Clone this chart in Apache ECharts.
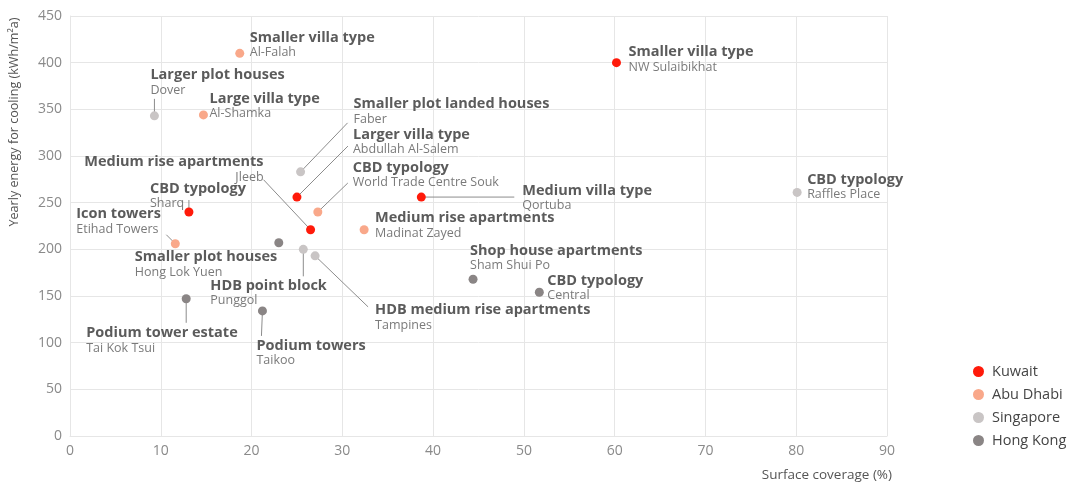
<!DOCTYPE html>
<html lang="en" style="height: 100%">
  <head>
    <meta charset="utf-8" />
  </head>
  <body style="height: 100%; margin: 0; background: #fff">
    <div id="container" style="width: 1073px; height: 486px"></div>

    <script
      type="text/javascript"
      src="https://cdn.jsdelivr.net/npm/echarts@6/dist/echarts.min.js"
    ></script>

    <script type="text/javascript">
      // countries + colours
      var countries = ["Kuwait", "Abu Dhabi", "Singapore", "Hong Kong"];
      var colors = ["#ff1a0a", "#f9a88a", "#c9c5c5", "#8a8585"];

      // Kuwait
      var kuwaitType = ["Smaller villa type", "Larger villa type", "Medium rise apartments", "CBD typology", "Medium villa type"];
      var kuwaitPlace = ["NW Sulaibikhat", "Abdullah Al-Salem", "Jleeb", "Sharq", "Qortuba"];
      var kuwaitX = [60.2, 25.0, 26.5, 13.1, 38.7];
      var kuwaitY = [400, 256, 221, 240, 256];

      // Abu Dhabi
      var abuDhabiType = ["Smaller villa type", "Large villa type", "CBD typology", "Medium rise apartments", "Icon towers"];
      var abuDhabiPlace = ["Al-Falah", "Al-Shamka", "World Trade Centre Souk", "Madinat Zayed", "Etihad Towers"];
      var abuDhabiX = [18.7, 14.7, 27.3, 32.4, 11.6];
      var abuDhabiY = [410, 344, 240, 221, 206];

      // Singapore
      var singaporeType = ["Larger plot houses", "Smaller plot landed houses", "HDB point block", "HDB medium rise apartments", "CBD typology"];
      var singaporePlace = ["Dover", "Faber", "Punggol", "Tampines", "Raffles Place"];
      var singaporeX = [9.3, 25.4, 25.7, 27.0, 80.1];
      var singaporeY = [343, 283, 200, 193, 261];

      // Hong Kong
      var hongKongType = ["Smaller plot houses", "Podium tower estate", "Podium towers", "Shop house apartments", "CBD typology"];
      var hongKongPlace = ["Hong Lok Yuen", "Tai Kok Tsui", "Taikoo", "Sham Shui Po", "Central"];
      var hongKongX = [23.0, 12.8, 21.2, 44.4, 51.7];
      var hongKongY = [207, 147, 134, 168, 154];

      // label offsets (px, from the dot centre to the label's top corner)
      var labelOffset = {
        "NW Sulaibikhat": [12, -18],
        "Abdullah Al-Salem": [56, -70],
        "Jleeb": [-47, -75],
        "Sharq": [-39, -31],
        "Qortuba": [101, -14],
        "Al-Falah": [10, -23],
        "Al-Shamka": [6, -24],
        "World Trade Centre Souk": [35, -52],
        "Madinat Zayed": [11, -19],
        "Etihad Towers": [-99, -37],
        "Dover": [-4, -48],
        "Faber": [53, -75],
        "Punggol": [-93, 29],
        "Tampines": [60, 47],
        "Raffles Place": [10, -20],
        "Hong Lok Yuen": [-144, 7],
        "Tai Kok Tsui": [-100, 27],
        "Taikoo": [-6, 27],
        "Sham Shui Po": [-3, -36],
        "Central": [8, -19]
      };
      var rightAligned = ["Jleeb"];

      // leader line ends (px, from the dot centre)
      var leaderEnd = {
        "Abdullah Al-Salem": [51, -51],
        "Jleeb": [-47, -50],
        "Sharq": [0, -12],
        "Qortuba": [93, 0],
        "World Trade Centre Souk": [30, -29],
        "Etihad Towers": [-9, -9],
        "Dover": [0, -17],
        "Faber": [47, -49],
        "Punggol": [0, 27],
        "Tampines": [53, 51],
        "Tai Kok Tsui": [0, 24],
        "Taikoo": [-1, 25]
      };

      var groups = [
        [kuwaitType, kuwaitPlace, kuwaitX, kuwaitY],
        [abuDhabiType, abuDhabiPlace, abuDhabiX, abuDhabiY],
        [singaporeType, singaporePlace, singaporeX, singaporeY],
        [hongKongType, hongKongPlace, hongKongX, hongKongY]
      ];

      var FONT = "'Open Sans', sans-serif";
      var R = 4.5;

      function buildItems(g) {
        var items = [];
        for (var i = 0; i < g[0].length; i++) {
          var place = g[1][i];
          var off = labelOffset[place] || [8, -14];
          var right = rightAligned.indexOf(place) >= 0;
          items.push({
            name: place,
            value: [g[2][i], g[3][i]],
            typeName: g[0][i],
            label: {
              position: [R + off[0], R + off[1]],
              align: right ? "right" : "left",
              verticalAlign: "top"
            }
          });
        }
        return items;
      }

      var leaderData = [];
      groups.forEach(function (g) {
        for (var i = 0; i < g[1].length; i++) {
          if (leaderEnd[g[1][i]]) {
            leaderData.push({ name: g[1][i], value: [g[2][i], g[3][i]] });
          }
        }
      });

      var series = [
        {
          type: "custom",
          name: "leaders",
          data: leaderData,
          silent: true,
          z: 1,
          renderItem: function (params, api) {
            var p = api.coord([api.value(0), api.value(1)]);
            var e = leaderEnd[leaderData[params.dataIndex].name];
            return {
              type: "line",
              shape: { x1: p[0], y1: p[1], x2: p[0] + e[0], y2: p[1] + e[1] },
              style: { stroke: "#8c8c8c", lineWidth: 1 }
            };
          }
        }
      ];

      groups.forEach(function (g, k) {
        series.push({
          type: "scatter",
          name: countries[k],
          symbolSize: 9,
          z: 3,
          itemStyle: { color: colors[k], opacity: 1 },
          data: buildItems(g),
          label: {
            show: true,
            fontFamily: FONT,
            formatter: function (p) {
              return "{t|" + p.data.typeName + "}\n{s|" + p.name + "}";
            },
            rich: {
              t: {
                fontFamily: FONT,
                fontSize: 14.5,
                fontWeight: "bold",
                color: "#5b5b5b",
                lineHeight: 15
              },
              s: {
                fontFamily: FONT,
                fontSize: 12.5,
                color: "#7a7a7a",
                lineHeight: 15
              }
            }
          }
        });
      });

      var dom = document.getElementById("container");
      var myChart = echarts.init(dom, null, { renderer: "canvas" });

      var option = {
        animation: false,
        color: colors,
        grid: { left: 70, right: 186, top: 16, bottom: 50, containLabel: false },
        legend: {
          data: countries,
          orient: "vertical",
          left: 968,
          top: 359,
          icon: "circle",
          itemWidth: 11,
          itemHeight: 11,
          itemGap: 8,
          textStyle: {
            fontFamily: FONT,
            fontSize: 14.5,
            color: "#444",
            padding: [0, 0, 0, 3]
          }
        },
        xAxis: {
          type: "value",
          min: 0,
          max: 90,
          interval: 10,
          name: "Surface coverage (%)",
          nameLocation: "end",
          nameGap: 5,
          nameMoveOverlap: false,
          nameTextStyle: {
            fontFamily: FONT,
            fontSize: 13.5,
            color: "#555",
            align: "right",
            verticalAlign: "top",
            padding: [32, 0, 0, 0]
          },
          axisLine: { show: true, lineStyle: { color: "#e6e6e6" } },
          axisTick: { show: false },
          axisLabel: { fontFamily: FONT, fontSize: 14, color: "#8a8a8a", margin: 8 },
          splitLine: { show: true, lineStyle: { color: "#e6e6e6" } }
        },
        yAxis: {
          type: "value",
          min: 0,
          max: 450,
          interval: 50,
          name: "Yearly energy for cooling (kWh/m²a)",
          nameLocation: "middle",
          nameRotate: 90,
          nameGap: 49,
          nameMoveOverlap: false,
          nameTextStyle: {
            fontFamily: FONT,
            fontSize: 12.6,
            color: "#555",
            padding: [0, 0, 0, 208]
          },
          axisLine: { show: true, lineStyle: { color: "#e6e6e6" } },
          axisTick: { show: false },
          axisLabel: { fontFamily: FONT, fontSize: 14, color: "#8a8a8a", margin: 8 },
          splitLine: { show: true, lineStyle: { color: "#e6e6e6" } }
        },
        series: series
      };

      myChart.setOption(option);
      window.addEventListener("resize", myChart.resize);
    </script>
  </body>
</html>
